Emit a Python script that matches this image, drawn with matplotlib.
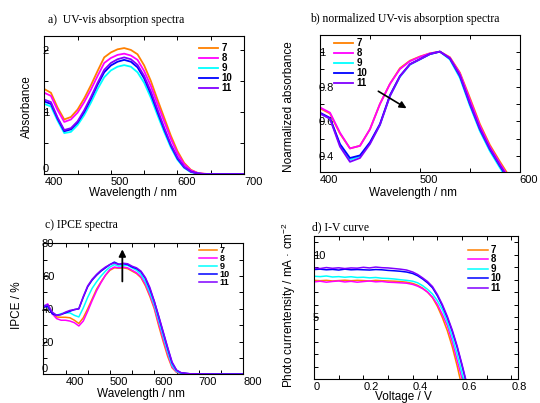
import matplotlib.pyplot as plt
from matplotlib.ticker import MultipleLocator

plt.rcParams['font.family'] = ['Liberation Sans', 'DejaVu Sans']
plt.rcParams['mathtext.fontset'] = 'custom'
plt.rcParams['mathtext.rm'] = 'Liberation Sans'
plt.rcParams['mathtext.it'] = 'Liberation Sans:italic'

names = ['7', '8', '9', '10', '11']
colors = ['#ff8000', '#ff00ff', '#00ffff', '#0000ff', '#8000ff']

# a) UV-vis absorption
wl_abs = [400, 410, 420, 430, 440, 450, 460, 470, 480, 490, 500, 510, 520, 530,
          540, 550, 560, 570, 580, 590, 600, 610, 620, 630, 640, 650, 700]
abs_7 = [1.37, 1.31, 1.07, 0.88, 0.92, 1.04, 1.22, 1.43, 1.66, 1.88, 1.96, 2.01, 2.03, 2.00,
         1.93, 1.75, 1.50, 1.20, 0.91, 0.62, 0.37, 0.18, 0.07, 0.02, 0.005, 0.0, 0.0]
abs_8 = [1.31, 1.26, 1.03, 0.84, 0.88, 0.99, 1.16, 1.36, 1.58, 1.79, 1.87, 1.92, 1.94, 1.91,
         1.84, 1.66, 1.42, 1.13, 0.85, 0.57, 0.33, 0.16, 0.06, 0.02, 0.005, 0.0, 0.0]
abs_9 = [1.13, 1.09, 0.86, 0.66, 0.68, 0.79, 0.95, 1.15, 1.37, 1.56, 1.67, 1.73, 1.755, 1.73,
         1.64, 1.47, 1.23, 0.95, 0.68, 0.43, 0.23, 0.10, 0.03, 0.01, 0.0, 0.0, 0.0]
abs_10 = [1.17, 1.13, 0.89, 0.69, 0.72, 0.83, 1.00, 1.21, 1.44, 1.64, 1.75, 1.81, 1.84, 1.81,
          1.72, 1.54, 1.29, 1.00, 0.72, 0.46, 0.25, 0.11, 0.04, 0.01, 0.0, 0.0, 0.0]
abs_11 = [1.20, 1.16, 0.91, 0.71, 0.74, 0.85, 1.03, 1.24, 1.47, 1.68, 1.79, 1.85, 1.88, 1.85,
          1.76, 1.58, 1.33, 1.04, 0.75, 0.48, 0.27, 0.12, 0.04, 0.01, 0.0, 0.0, 0.0]

# b) normalized absorption
wl_norm = [400, 410, 420, 430, 440, 450, 460, 470, 480, 490, 500, 510, 520, 530,
           540, 550, 560, 570, 580, 590, 600, 610]
norm_7 = [0.675, 0.645, 0.53, 0.445, 0.46, 0.555, 0.70, 0.815, 0.905, 0.948, 0.972, 0.99, 1.0, 0.968,
          0.88, 0.735, 0.585, 0.465, 0.37, 0.28, 0.20, 0.13]
norm_8 = [0.68, 0.65, 0.535, 0.445, 0.46, 0.555, 0.70, 0.815, 0.90, 0.945, 0.97, 0.99, 1.0, 0.965,
          0.875, 0.725, 0.575, 0.455, 0.36, 0.27, 0.19, 0.12]
norm_9 = [0.645, 0.615, 0.465, 0.38, 0.40, 0.475, 0.58, 0.745, 0.855, 0.925, 0.955, 0.985, 1.0, 0.955,
          0.85, 0.69, 0.545, 0.43, 0.335, 0.245, 0.165, 0.10]
norm_10 = [0.65, 0.62, 0.47, 0.39, 0.405, 0.48, 0.585, 0.75, 0.86, 0.928, 0.957, 0.986, 1.0, 0.96,
           0.86, 0.70, 0.555, 0.44, 0.345, 0.255, 0.175, 0.11]
norm_11 = [0.645, 0.615, 0.455, 0.368, 0.39, 0.47, 0.58, 0.745, 0.858, 0.927, 0.956, 0.986, 1.0, 0.962,
           0.865, 0.705, 0.56, 0.445, 0.35, 0.26, 0.18, 0.115]

# c) IPCE
wl_ipce = [350, 360, 370, 380, 390, 400, 410, 420, 430, 440, 450, 460, 470, 480, 490, 500,
           510, 520, 530, 540, 550, 560, 570, 580, 590, 600, 610, 620, 630, 640, 650, 660,
           680, 700, 750, 800]
ipce_7 = [41, 42, 37, 35, 34.8, 34.8, 34.5, 33, 31, 34.5, 40, 46, 52, 56.5, 60.5, 63.5,
          65, 64.8, 65, 64.5, 63, 61.5, 59, 54, 47.5, 40, 29.5, 20, 11, 4, 1.2, 0.4,
          0.2, 0.1, 0.1, 0.1]
ipce_8 = [41.5, 43, 37, 34, 33, 33, 32.5, 31.5, 29.5, 32.5, 38.5, 45, 51, 56, 60.5, 64,
          65.5, 65, 65.5, 65, 63.5, 62, 59.5, 55, 48.5, 41, 31, 21.5, 12.5, 4.5, 1.5, 0.5,
          0.2, 0.1, 0.1, 0.1]
ipce_9 = [42, 42, 37.5, 36, 37, 37.5, 37.5, 36, 35, 40.5, 47, 52.5, 56.5, 60, 63, 65.5,
          67, 66, 66.5, 66.5, 65, 63.5, 61, 56.5, 50, 42.5, 33, 23.5, 14, 5.5, 1.8, 0.6,
          0.2, 0.1, 0.1, 0.1]
ipce_10 = [41, 41.5, 37, 36, 36.5, 37.5, 38.5, 39.5, 40, 47, 53.5, 57.5, 60.5, 63, 65, 67,
           68.5, 67.2, 67.5, 67, 65.5, 64.5, 62.5, 58.5, 52, 44.5, 35, 25.5, 16, 7, 2.5, 0.9,
           0.3, 0.2, 0.1, 0.1]
ipce_11 = [41.5, 42.5, 38, 36, 36.5, 38, 39, 39.5, 40, 47.5, 54, 58, 61, 63.5, 65.5, 67,
           68, 67, 67.8, 67.5, 66, 65, 63, 59, 53, 44.5, 35.5, 26, 16.5, 7.5, 2.5, 1,
           0.3, 0.2, 0.1, 0.1]

# d) I-V curves
volt = [0, 0.025, 0.05, 0.075, 0.1, 0.125, 0.15, 0.175, 0.2, 0.225, 0.25, 0.275, 0.3, 0.325,
        0.35, 0.375, 0.4, 0.42, 0.44, 0.46, 0.48, 0.5, 0.52, 0.54, 0.56, 0.58, 0.6, 0.62, 0.64]
iv_7 = [7.95, 7.92, 7.95, 7.9, 7.93, 7.96, 7.92, 7.95, 7.93, 7.9, 7.95, 7.92, 7.9, 7.88,
        7.85, 7.8, 7.7, 7.55, 7.32, 7.0, 6.55, 5.85, 4.95, 3.9, 2.6, 1.05, -0.7, -2.5, -4.3]
iv_8 = [7.82, 7.88, 7.8, 7.86, 7.9, 7.82, 7.87, 7.8, 7.85, 7.9, 7.83, 7.86, 7.8, 7.78,
        7.75, 7.72, 7.62, 7.48, 7.28, 7.0, 6.6, 6.0, 5.2, 4.3, 3.0, 1.5, 0.0, -1.6, -3.3]
iv_9 = [8.28, 8.25, 8.3, 8.22, 8.25, 8.2, 8.24, 8.18, 8.2, 8.15, 8.18, 8.12, 8.1, 8.06,
        8.0, 7.95, 7.88, 7.75, 7.52, 7.22, 6.85, 6.3, 5.6, 4.6, 3.4, 2.0, 0.45, -1.2, -3.0]
iv_10 = [8.82, 8.85, 8.8, 8.83, 8.78, 8.85, 8.8, 8.82, 8.8, 8.78, 8.82, 8.8, 8.75, 8.72,
         8.68, 8.62, 8.5, 8.32, 8.06, 7.75, 7.35, 6.7, 5.9, 4.95, 3.85, 2.55, 1.05, -0.55, -2.2]
iv_11 = [8.95, 8.9, 8.98, 8.92, 8.96, 8.9, 8.95, 8.93, 9.0, 8.95, 9.02, 8.97, 8.95, 8.9,
         8.85, 8.78, 8.62, 8.42, 8.15, 7.85, 7.45, 6.8, 6.0, 5.05, 3.95, 2.65, 1.15, -0.45, -2.1]

# arrows (tail, head) in data coords
arrow_b = [(456, 0.781), (489, 0.667)]
arrow_c = [(528, 55), (528, 78)]


def style(ax, xticks, xlabels, xminor, yticks, ylabels, yminor):
    ax.set_xticks(xticks)
    ax.set_xticklabels(xlabels)
    ax.set_yticks(yticks)
    ax.set_yticklabels(ylabels)
    if xminor:
        ax.xaxis.set_minor_locator(MultipleLocator(xminor))
    if yminor:
        ax.yaxis.set_minor_locator(MultipleLocator(yminor))
    ax.tick_params(which='both', direction='in', top=True, right=True,
                   length=3, width=0.7, labelsize=8)
    ax.tick_params(axis='y', pad=1)
    ax.tick_params(axis='x', pad=2)
    plt.setp(ax.get_yticklabels(), ha='left')
    plt.setp(ax.get_xticklabels(), ha='left')
    # the zero label sits just above the bottom spine
    ylabs = ax.get_yticklabels()
    if ylabs[0].get_text() == '0':
        ylabs[0].set_va('bottom')
    for s in ax.spines.values():
        s.set_linewidth(0.8)


def add_legend(ax, x, y, size, spacing):
    ax.legend(loc='upper left', bbox_to_anchor=(x, y), frameon=False,
              prop={'weight': 'bold', 'size': size}, handlelength=2.0,
              handletextpad=0.3, labelspacing=spacing, borderpad=0,
              borderaxespad=0)


fig = plt.figure(figsize=(5.4, 4.03), dpi=100)
ax_a = fig.add_axes([0.082, 0.568, 0.370, 0.342])
ax_b = fig.add_axes([0.5926, 0.572, 0.370, 0.341])
ax_c = fig.add_axes([0.0802, 0.0713, 0.370, 0.325])
ax_d = fig.add_axes([0.5815, 0.0596, 0.378, 0.355])

# a
for n, c, y in zip(names, colors, [abs_7, abs_8, abs_9, abs_10, abs_11]):
    ax_a.plot(wl_abs, y, color=c, lw=1.3, label=n)
ax_a.set_xlim(400, 700)
ax_a.set_ylim(0, 2.22)
style(ax_a, [400, 500, 600, 700], ['400', '500', '600', '700'], 50,
      [0, 1, 2], ['0', '1', '2'], 0.5)
ax_a.set_xlabel('Wavelength / nm', fontsize=8.5)
ax_a.set_ylabel('Absorbance', fontsize=8.5)
ax_a.xaxis.set_label_coords(0.4435, -0.094)
ax_a.yaxis.set_label_coords(-0.0565, 0.493)
add_legend(ax_a, 0.774, 0.95, 7, 0.0)

# b
for n, c, y in zip(names, colors, [norm_7, norm_8, norm_9, norm_10, norm_11]):
    ax_b.plot(wl_norm, y, color=c, lw=1.3, label=n)
ax_b.set_xlim(400, 600)
ax_b.set_ylim(0.307, 1.095)
style(ax_b, [400, 500, 600], ['400', '500', '600'], 50,
      [0.4, 0.6, 0.8, 1.0], ['0.4', '0.6', '0.8', '1'], 0.1)
ax_b.set_xlabel('Wavelength / nm', fontsize=8.5)
ax_b.set_ylabel('Noarmalized absorbance', fontsize=8.5)
ax_b.xaxis.set_label_coords(0.465, -0.105)
ax_b.yaxis.set_label_coords(-0.125, 0.476)
add_legend(ax_b, 0.07, 0.975, 7, 0.0)
ax_b.annotate('', xy=arrow_b[1], xytext=arrow_b[0],
              arrowprops=dict(arrowstyle='-|>', color='black', lw=1.2, mutation_scale=10))

# c
for n, c, y in zip(names, colors, [ipce_7, ipce_8, ipce_9, ipce_10, ipce_11]):
    ax_c.plot(wl_ipce, y, color=c, lw=1.1, label=n)
ax_c.set_xlim(350, 800)
ax_c.set_ylim(0, 80)
style(ax_c, [400, 500, 600, 700, 800], ['400', '500', '600', '700', '800'], 50,
      [0, 20, 40, 60, 80], ['0', '20', '40', '60', '80'], 10)
ax_c.set_xlabel('Wavelength / nm', fontsize=8.5)
ax_c.set_ylabel('IPCE / %', fontsize=8.5)
ax_c.xaxis.set_label_coords(0.489, -0.105)
ax_c.yaxis.set_label_coords(-0.1015, 0.529)
add_legend(ax_c, 0.778, 0.98, 6.5, -0.1)
ax_c.annotate('', xy=arrow_c[1], xytext=arrow_c[0],
              arrowprops=dict(arrowstyle='-|>', color='black', lw=1.3, mutation_scale=10))

# d
for n, c, y in zip(names, colors, [iv_7, iv_8, iv_9, iv_10, iv_11]):
    ax_d.plot(volt, y, color=c, lw=1.1, label=n)
ax_d.set_xlim(0, 0.827)
ax_d.set_ylim(0, 11.53)
style(ax_d, [0, 0.2, 0.4, 0.6, 0.8], ['0', '0.2', '0.4', '0.6', '0.8'], 0.1,
      [5, 10], ['5', '10'], 1)
ax_d.set_xlabel('Voltage / V', fontsize=8.5)
ax_d.set_ylabel('Photo currentensity / mA \u00b7 cm$^{-2}$', fontsize=8.5)
ax_d.xaxis.set_label_coords(0.436, -0.086)
ax_d.yaxis.set_label_coords(-0.078, 0.514)
add_legend(ax_d, 0.755, 0.937, 7, -0.05)

# panel titles
title_kw = dict(family='Liberation Serif', fontsize=8.4, ha='left', va='center')
fig.text(48 / 540, 1 - 20 / 403, 'a)  UV-vis absorption spectra', **title_kw)
fig.text(310 / 540, 1 - 19 / 403, 'b) normalized UV-vis absorption spectra', **title_kw)
fig.text(45 / 540, 1 - 225 / 403, 'c) IPCE spectra', **title_kw)
fig.text(312 / 540, 1 - 227 / 403, 'd) I-V curve', **title_kw)

fig.savefig('out.png', dpi=100)
